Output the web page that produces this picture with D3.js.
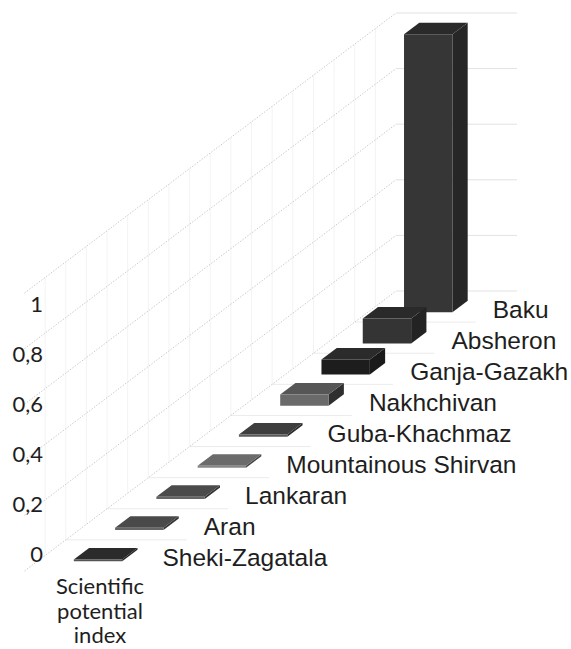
<!DOCTYPE html>
<html>
<head>
<meta charset="utf-8">
<script src="https://cdn.jsdelivr.net/npm/d3@7"></script>
<style>
  html, body { margin: 0; padding: 0; background: #fff; }
  svg { display: block; }
</style>
</head>
<body>
<svg id="chart" width="571" height="649"></svg>
<script>
// ---- data (front to back along the depth axis) ----
const categories = ["Sheki-Zagatala", "Aran", "Lankaran", "Mountainous Shirvan", "Guba-Khachmaz",
                    "Nakhchivan", "Ganja-Gazakh", "Absheron", "Baku"];
const values = [0.006, 0.008, 0.008, 0.008, 0.008, 0.04, 0.054, 0.09, 1.0];
const valueTicks = [0, 0.2, 0.4, 0.6, 0.8, 1];
const tickLabels = ["0", "0,2", "0,4", "0,6", "0,8", "1"];
const axisTitle = ["Scientific", "potential", "index"];
// bar face colours: [front, top, side]
const barColors = [
  ["#555555", "#2b2b2b", "#222222"],
  ["#666666", "#4a4a4a", "#333333"],
  ["#666666", "#4b4b4b", "#333333"],
  ["#888888", "#6b6b6b", "#444444"],
  ["#5a5a5a", "#3e3e3e", "#2a2a2a"],
  ["#6a6a6a", "#565656", "#2f2f2f"],
  ["#1d1d1d", "#2b2b2b", "#1a1a1a"],
  ["#343434", "#2a2a2a", "#232323"],
  ["#363636", "#2a2a2a", "#262626"]
];

const svg = d3.select("#chart");

// ---- oblique 3D projection built from scales ----
const ox = 24.5, oy = 571;
const depth = d3.scaleBand().domain(categories).range([0, 1]).paddingInner(0.63).paddingOuter(0.315);
const depthX = d3.scaleLinear().domain([0, 1]).range([0, 371.5]);
const depthY = d3.scaleLinear().domain([0, 1]).range([0, -280]);
const catX = d3.scaleLinear().domain([0, 1]).range([0, 121]);
const valY = d3.scaleLinear().domain([0, 1]).range([0, 278]);
const P = (c, d, v) => [ox + catX(c) + depthX(d), oy + depthY(d) - valY(v)];
const line = d3.line();

const grid = svg.append("g");
const nSlots = categories.length;

// side-wall vertical depth gridlines (half steps)
d3.range(1, 2 * nSlots).forEach(k => {
  const d = k / (2 * nSlots);
  grid.append("path").attr("d", line([P(0, d, 0), P(0, d, 1)]))
    .attr("stroke", "#f3f3f3").attr("stroke-width", 1).attr("fill", "none");
});
// floor gridlines at slot boundaries
d3.range(1, nSlots).forEach(k => {
  const d = k / nSlots;
  grid.append("path").attr("d", line([P(0, d, 0), P(1, d, 0)]))
    .attr("stroke", "#ebebeb").attr("stroke-width", 1).attr("fill", "none");
});
// back wall horizontal gridlines
valueTicks.forEach(v => {
  grid.append("path").attr("d", line([P(0, 1, v), P(1, 1, v)]))
    .attr("stroke", "#e2e2e2").attr("stroke-width", 1).attr("fill", "none");
});
// side wall diagonal value gridlines (dotted)
valueTicks.forEach(v => {
  grid.append("path").attr("d", line([P(0, 0, v), P(0, 1, v)]))
    .attr("stroke", "#c2c2c2").attr("stroke-width", 0.9)
    .attr("stroke-dasharray", "1.4,1.6").attr("fill", "none");
});

// ---- bars, drawn back to front ----
const bars = svg.append("g");
const c0 = 0.3, c1 = 0.7;
d3.range(nSlots - 1, -1, -1).forEach(i => {
  const name = categories[i], v = values[i], col = barColors[i];
  const d0 = depth(name), d1 = d0 + depth.bandwidth();
  const g = bars.append("g");
  g.append("path").attr("d", line([P(c1, d0, 0), P(c1, d1, 0), P(c1, d1, v), P(c1, d0, v)]) + "Z")
    .attr("fill", col[2]);
  g.append("path").attr("d", line([P(c0, d0, v), P(c1, d0, v), P(c1, d1, v), P(c0, d1, v)]) + "Z")
    .attr("fill", col[1]);
  g.append("path").attr("d", line([P(c0, d0, 0), P(c1, d0, 0), P(c1, d0, v), P(c0, d0, v)]) + "Z")
    .attr("fill", col[0]);
});

// ---- category (depth axis) labels ----
const labels = svg.append("g")
  .attr("font-family", "'Liberation Sans', Arial, sans-serif")
  .attr("font-size", 24.5).attr("fill", "#1e1e1e");
categories.forEach((name, i) => {
  const dc = depth(name) + depth.bandwidth() / 2;
  const p = P(0.97, dc, 0);
  labels.append("text").attr("x", p[0]).attr("y", p[1] + 11).text(name);
});

// ---- value axis tick labels ----
const tickY = d3.scaleLinear().domain([0, 1]).range([562, 312]);
const ticks = svg.append("g")
  .attr("font-family", "Lato, 'Open Sans', sans-serif")
  .attr("font-size", 22).attr("fill", "#1e1e1e").attr("text-anchor", "end");
valueTicks.forEach((v, i) => {
  ticks.append("text").attr("x", 43).attr("y", tickY(v)).text(tickLabels[i]);
});

// ---- axis title ----
const title = svg.append("g")
  .attr("font-family", "Lato, 'Open Sans', sans-serif")
  .attr("font-size", 22).attr("fill", "#1e1e1e").attr("text-anchor", "middle");
axisTitle.forEach((t, i) => {
  title.append("text").attr("x", 100).attr("y", 594 + i * 24.5).text(t);
});
</script>
</body>
</html>
